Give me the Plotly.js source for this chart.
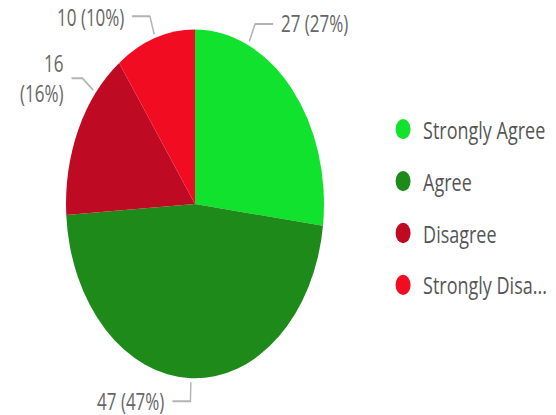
<!DOCTYPE html>
<html><head><meta charset="utf-8">
<script src="https://cdn.plot.ly/plotly-3.0.1.min.js"></script>
<style>
html,body{margin:0;padding:0;background:#fff;overflow:hidden}
#wrap{width:556px;height:415px;overflow:hidden;position:relative}
#chart{width:556px;height:307px;transform:scaleY(1.3518);transform-origin:0 0}
</style></head>
<body><div id="wrap"><div id="chart"></div></div>
<script>
// ---- data ----
const categories = ["Strongly Agree", "Agree", "Disagree", "Strongly Disagree"];
const legendLabels = ["Strongly Agree", "Agree", "Disagree", "Strongly Disa..."];
const counts = [27, 47, 16, 10];
const percents = [27, 47, 16, 10];

// ---- style ----
const colors = ["#11E22D", "#1E8A1A", "#BE0A22", "#F20C22"];
const W = 556, H = 307;
const cx = 195, cy = 150.9, R = 129;
const anchorFrac = [0.25, 0.5, 0.75, 0.5];
const wrapLabel = [false, false, true, false];
const hLen = [18, 18, 11, 18];
const FONT = "Open Sans, Noto Sans, sans-serif";

const total = counts.reduce((a, b) => a + b, 0);
const px = x => x / W, py = y => 1 - y / H;
function pt(r, a) { const t = a * Math.PI / 180; return [cx + r * Math.sin(t), cy - r * Math.cos(t)]; }

const shapes = [], annotations = [];
let cum = 0;
counts.forEach((v, i) => {
  const start = cum / total * 360, span = v / total * 360;
  cum += v;
  const a = start + anchorFrac[i] * span;
  const side = Math.sin(a * Math.PI / 180) >= 0 ? 1 : -1;
  const p1 = pt(R + 3, a), p2 = pt(R + 17, a);
  const p3 = [p2[0] + side * hLen[i], p2[1]];
  shapes.push({
    type: "path", xref: "paper", yref: "paper",
    path: `M ${px(p1[0])},${py(p1[1])} L ${px(p2[0])},${py(p2[1])} L ${px(p3[0])},${py(p3[1])}`,
    line: { color: "#B4B4B4", width: 1.5 }
  });
  const txt = counts[i] + (wrapLabel[i] ? "<br>" : " ") + "(" + percents[i] + "%)";
  annotations.push({
    xref: "paper", yref: "paper", x: px(p3[0] + side * 6), y: py(p3[1]),
    xanchor: side > 0 ? "left" : "right", yanchor: "middle",
    align: side > 0 ? "left" : "right", showarrow: false, text: txt,
    font: { family: FONT, size: 17, color: "#666666" }
  });
});

const traces = [{
  type: "pie", values: counts, labels: categories, sort: false,
  direction: "clockwise", rotation: 0, textinfo: "none", hoverinfo: "skip",
  showlegend: false,
  marker: { colors: colors, line: { width: 0 } },
  domain: { x: [(cx - R) / W, (cx + R) / W], y: [1 - (cy + R) / H, 1 - (cy - R) / H] }
}];
legendLabels.forEach((n, i) => traces.push({
  type: "scatter", mode: "markers", x: [null], y: [null], name: n,
  legendgroup: "g" + i, marker: { color: colors[i], size: 15 }, hoverinfo: "skip"
}));

const layout = {
  width: W, height: H, margin: { l: 0, r: 0, t: 0, b: 0 },
  paper_bgcolor: "#fff", plot_bgcolor: "#fff",
  xaxis: { visible: false }, yaxis: { visible: false },
  showlegend: true,
  legend: { x: 0.689, y: 0.748, xanchor: "left", yanchor: "top", tracegroupgap: 12,
    bgcolor: "rgba(0,0,0,0)", font: { family: FONT, size: 18, color: "#555555" } },
  shapes: shapes, annotations: annotations
};
Plotly.newPlot("chart", traces, layout, { staticPlot: true, displayModeBar: false });
</script></body></html>
